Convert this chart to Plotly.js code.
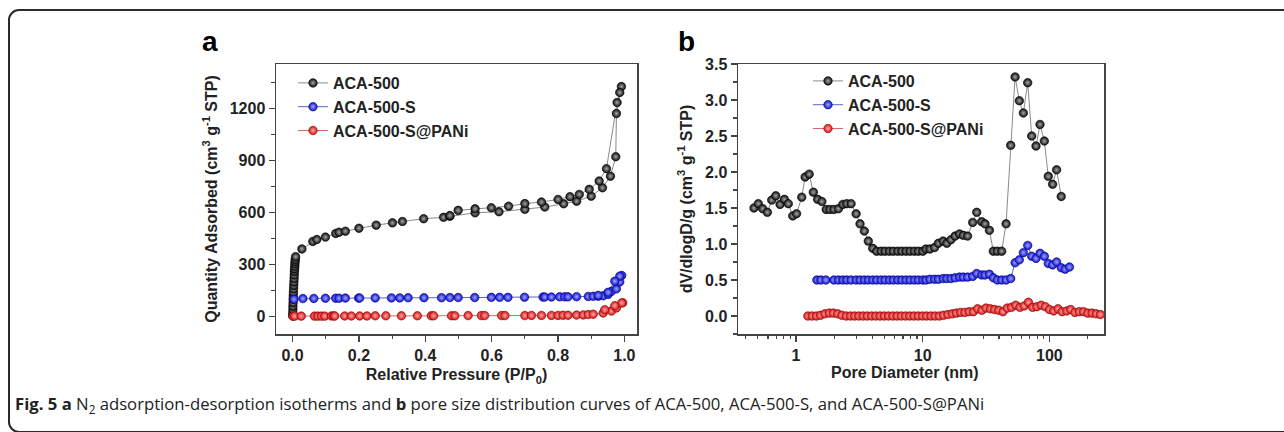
<!DOCTYPE html>
<html>
<head>
<meta charset="utf-8">
<script src="https://cdn.plot.ly/plotly-3.0.1.min.js"></script>
<style>
  html, body { margin: 0; padding: 0; background: #fff; }
  #wrap { position: relative; width: 1284px; height: 432px; overflow: hidden; }
  #frame { position: absolute; left: 8px; top: 9px; width: 1320px; height: 420px;
           border: 2px solid #2a2a2a; border-radius: 11px; pointer-events: none; }
  #chart { position: absolute; left: 0; top: 0; width: 1284px; height: 432px; }
</style>
</head>
<body>
<div id="wrap">
  <div id="chart"></div>
  <div id="frame"></div>
</div>
<script>
// ---------- Panel a: N2 adsorption-desorption isotherms ----------
const seriesNames = ['ACA-500', 'ACA-500-S', 'ACA-500-S@PANi'];

const isoX_ACA500 = [0.0003,0.0005,0.0008,0.001,0.0013,0.0016,0.002,0.0025,0.003,0.0035,0.004,0.0045,0.005,0.0055,0.006,0.0065,0.007,0.0075,0.008,0.009,
  0.028,0.061,0.073,0.099,0.130,0.140,0.159,0.200,0.252,0.301,0.331,0.395,0.455,0.474,0.550,0.622,0.700,0.760,0.817,0.856,0.900,0.934,0.958,0.974,0.976,0.991,
  0.986,0.978,0.946,0.924,0.894,0.864,0.836,0.800,0.750,0.700,0.651,0.599,0.550,0.499,0.474];
const isoY_ACA500 = [5,20,40,60,80,100,120,140,160,180,200,220,240,260,275,290,305,318,330,345,
  390,433,444,458,479,486,492,509,527,540,548,564,572,578,598,604,618,631,650,665,694,742,809,921,1170,1325,
  1291,1233,852,781,733,704,691,675,660,651,636,627,621,612,582];

const isoX_ACA500S = [0.004,0.031,0.064,0.099,0.130,0.140,0.159,0.199,0.202,0.249,0.298,0.323,0.348,0.396,0.449,0.474,0.499,0.549,0.599,0.624,0.649,0.699,0.755,0.760,0.780,0.805,0.820,0.830,0.856,0.891,0.906,0.921,0.936,0.951,0.961,0.976,0.986,0.992,0.986,0.971,0.951,0.921];
const isoY_ACA500S = [100,104,105,106,106,106,107,107,107,108,108,108,109,109,109,110,110,110,111,111,111,112,113,113,113,114,114,114,115,116,117,118,120,128,146,160,200,237,233,204,140,122];

const isoX_PANi = [0.001,0.006,0.026,0.066,0.076,0.087,0.097,0.117,0.124,0.127,0.157,0.177,0.202,0.224,0.249,0.281,0.328,0.376,0.418,0.425,0.479,0.489,0.529,0.569,0.579,0.630,0.640,0.700,0.720,0.750,0.780,0.800,0.815,0.830,0.856,0.876,0.891,0.906,0.936,0.961,0.976,0.995,0.992,0.971,0.941];
const isoY_PANi = [2,3,3,3,3,3,3,4,4,4,4,4,4,4,5,5,5,5,5,5,5,5,6,6,6,6,6,6,7,7,7,7,8,8,9,10,12,14,21,32,50,80,79,63,40];

// ---------- Panel b: pore size distribution ----------
const psdX_ACA500 = [0.466,0.504,0.546,0.594,0.643,0.692,0.748,0.809,0.869,0.942,1.01,1.11,1.18,1.27,1.37,1.48,1.60,1.73,1.85,1.99,2.16,2.34,2.51,2.72,2.98,3.20,3.46,3.72,4.03,4.33,4.69,5.04,5.45,5.86,6.35,6.83,7.38,7.94,8.59,9.23,10.0,10.6,11.4,12.4,13.3,14.5,15.5,16.7,18.0,19.5,20.9,22.6,24.8,26.7,29.2,31.0,33.6,36.1,38.8,42.0,45.5,49.5,53.6,57.9,62.3,67.4,72.5,78.4,84.3,91.2,98.0,106,114,124];
const psdY_ACA500 = [1.50,1.56,1.49,1.44,1.61,1.67,1.55,1.62,1.56,1.39,1.42,1.65,1.93,1.97,1.72,1.62,1.59,1.48,1.48,1.48,1.49,1.55,1.56,1.56,1.42,1.28,1.18,1.04,0.94,0.90,
  0.90,0.90,0.90,0.90,0.90,0.90,0.90,0.90,0.90,0.90,0.90,
  0.93,0.93,0.95,1.01,1.04,1.01,1.06,1.11,1.14,1.12,1.11,1.30,1.44,1.31,1.28,1.19,0.90,0.90,0.90,1.28,2.37,3.32,2.99,2.82,3.24,2.50,2.36,2.66,2.43,1.94,1.83,2.03,1.66];

const psdX_ACA500S = [1.46,1.57,1.72,1.99,2.16,2.34,2.51,2.72,2.98,3.20,3.46,3.72,4.03,4.33,4.69,5.04,5.45,5.86,6.35,6.83,7.38,7.94,8.59,9.23,10.0,10.6,11.4,12.4,13.3,14.5,15.5,16.7,18.0,19.5,20.9,22.6,24.8,26.7,29.2,31.0,33.6,36.1,38.8,42.0,45.5,49.5,53.6,57.9,62.3,67.4,72.5,78.4,84.3,91.2,98.0,106,114,124,133,144];
const psdY_ACA500S = [0.50,0.50,0.50,0.50,0.50,0.50,0.50,0.50,0.50,0.50,0.50,0.50,0.50,0.50,0.50,0.50,0.50,0.50,0.50,0.50,0.50,0.50,0.50,0.50,0.50,0.50,0.51,0.51,
  0.51,0.52,0.52,0.52,0.53,0.54,0.54,0.54,0.55,0.59,0.57,0.57,0.58,0.53,0.50,0.50,0.50,0.52,0.74,0.78,0.88,0.98,0.83,0.80,0.87,0.83,0.73,0.71,0.75,0.67,0.65,0.68];

const psdX_PANi = [1.24,1.34,1.45,1.56,1.69,1.83,1.97,2.13,2.30,2.49,2.69,2.90,3.13,3.38,3.65,3.95,4.26,4.60,4.97,5.37,5.80,6.27,6.77,7.31,7.89,8.53,9.21,9.95,10.7,11.6,12.5,13.5,14.6,15.8,17.1,18.4,19.9,21.5,23.2,25.1,27.1,29.3,31.6,34.2,36.9,39.8,43.0,46.5,50.2,54.2,58.5,63.2,68.3,73.7,79.6,86.0,92.9,100,108,117,126,137,147,159,172,186,201,217,234,253];
const psdY_PANi = [0.00,0.00,0.00,0.01,0.03,0.04,0.04,0.03,0.01,0.00,
  0.00,0.00,0.00,0.00,0.00,0.00,0.00,0.00,0.00,0.00,0.00,0.00,0.00,0.00,0.00,0.00,0.00,0.00,0.00,0.00,0.00,0.00,
  0.01,0.02,0.03,0.04,0.05,0.05,0.06,0.06,0.10,0.08,0.11,0.10,0.09,0.08,0.06,0.11,0.12,0.15,0.12,0.14,0.19,0.12,0.13,0.15,0.13,0.09,0.07,0.10,0.06,0.07,0.09,0.05,0.06,0.06,0.04,0.04,0.03,0.02];

// tick labels
const isoXTicks = [0.0, 0.2, 0.4, 0.6, 0.8, 1.0];
const isoYTicks = [0, 300, 600, 900, 1200];
const psdXTicks = [1, 10, 100];
const psdXTickText = ['1', '10', '100'];
const psdXMinor = [0.4,0.5,0.6,0.7,0.8,0.9,2,3,4,5,6,7,8,9,20,30,40,50,60,70,80,90,200];
const psdYTicks = [0.0, 0.5, 1.0, 1.5, 2.0, 2.5, 3.0, 3.5];

// ---------- styles ----------
const W = 1284, H = 432;
const FONT = 'Liberation Sans, Arial, sans-serif';
const styles = [
  { color: '#0c0c0c', grad: '#a8a8a8', edge: '#000000', line: '#8a8a8a' },
  { color: '#1010d8', grad: '#a0a8ff', edge: '#06066a', line: '#5a64c8' },
  { color: '#dc1414', grad: '#ffa8a8', edge: '#7a0808', line: '#d86a6a' }
];
function tr(x, y, i, xa, ya, leg) {
  const s = styles[i];
  return {
    x: x, y: y, name: seriesNames[i], type: 'scatter', mode: 'lines+markers',
    xaxis: xa, yaxis: ya, legend: leg, cliponaxis: true,
    line: { color: s.line, width: 1 },
    marker: { size: 8.5, color: s.color, line: { color: s.edge, width: 0.6 },
              gradient: { type: 'radial', color: s.grad } }
  };
}
const data = [
  tr(isoX_ACA500, isoY_ACA500, 0, 'x', 'y', 'legend'),
  tr(isoX_ACA500S, isoY_ACA500S, 1, 'x', 'y', 'legend'),
  tr(isoX_PANi, isoY_PANi, 2, 'x', 'y', 'legend'),
  tr(psdX_ACA500, psdY_ACA500, 0, 'x2', 'y2', 'legend2'),
  tr(psdX_ACA500S, psdY_ACA500S, 1, 'x2', 'y2', 'legend2'),
  tr(psdX_PANi, psdY_PANi, 2, 'x2', 'y2', 'legend2')
];

const tickFont = { family: FONT, size: 16, color: '#222', weight: 'bold' };
const titleFont = { family: FONT, size: 16, color: '#222', weight: 'bold' };
const axBase = {
  showline: true, mirror: true, linecolor: '#444', linewidth: 1.5,
  ticks: 'outside', ticklen: 6, tickwidth: 1.3, tickcolor: '#444',
  showgrid: false, zeroline: false, tickfont: tickFont, automargin: false
};
const px = v => v / W, py = v => 1 - v / H;

const layout = {
  width: W, height: H,
  margin: { l: 0, r: 0, t: 0, b: 0 },
  paper_bgcolor: 'rgba(0,0,0,0)', plot_bgcolor: 'rgba(0,0,0,0)',
  showlegend: true,
  xaxis: Object.assign({}, axBase, {
    domain: [px(276), px(637)], range: [-0.05, 1.038],
    tickmode: 'array', tickvals: isoXTicks, tickformat: '.1f',
    minor: { ticks: 'outside', ticklen: 3.5, tickwidth: 1.2, tickcolor: '#444', dtick: 0.1, tick0: 0 },
    title: { text: 'Relative Pressure (P/P<sub>0</sub>)', font: titleFont, standoff: 6 },
    anchor: 'y'
  }),
  yaxis: Object.assign({}, axBase, {
    domain: [py(334), py(64)], range: [-100, 1455],
    tickmode: 'array', tickvals: isoYTicks,
    minor: { ticks: 'outside', ticklen: 3.5, tickwidth: 1.2, tickcolor: '#444', dtick: 150, tick0: 0 },
    title: { text: 'Quantity Adsorbed (cm<sup>3</sup> g<sup>-1</sup> STP)', font: titleFont, standoff: 8 },
    anchor: 'x'
  }),
  xaxis2: Object.assign({}, axBase, {
    domain: [px(738), px(1104)], type: 'log', range: [-0.458, 2.431],
    tickmode: 'array', tickvals: psdXTicks, ticktext: psdXTickText,
    minor: { ticks: 'outside', ticklen: 3.5, tickwidth: 1.2, tickcolor: '#444', tickmode: 'array', tickvals: psdXMinor },
    anchor: 'y2'
  }),
  yaxis2: Object.assign({}, axBase, {
    domain: [py(334), py(64)], range: [-0.25, 3.5],
    tickmode: 'array', tickvals: psdYTicks, tickformat: '.1f',
    minor: { ticks: 'outside', ticklen: 3.5, tickwidth: 1.2, tickcolor: '#444', dtick: 0.25, tick0: 0 },
    title: { text: 'dV/dlogD/g (cm<sup>3</sup> g<sup>-1</sup> STP)', font: titleFont, standoff: 8 },
    anchor: 'x2'
  }),
  legend: {
    x: px(293), y: py(66), xanchor: 'left', yanchor: 'top',
    bgcolor: 'rgba(0,0,0,0)', borderwidth: 0,
    font: { family: FONT, size: 16, color: '#222', weight: 'bold' }
  },
  legend2: {
    x: px(808), y: py(64), xanchor: 'left', yanchor: 'top',
    bgcolor: 'rgba(0,0,0,0)', borderwidth: 0,
    font: { family: FONT, size: 16, color: '#222', weight: 'bold' }
  },
  annotations: [
    { text: 'a', xref: 'paper', yref: 'paper', x: px(200), y: py(41), xanchor: 'left', yanchor: 'middle',
      showarrow: false, font: { family: FONT, size: 28, color: '#000', weight: 'bold' } },
    { text: 'b', xref: 'paper', yref: 'paper', x: px(676), y: py(41), xanchor: 'left', yanchor: 'middle',
      showarrow: false, font: { family: FONT, size: 28, color: '#000', weight: 'bold' } },
    { text: 'Pore Diameter (nm)', xref: 'paper', yref: 'paper', x: px(905), y: py(372), xanchor: 'center', yanchor: 'middle',
      showarrow: false, font: titleFont },
    { text: '<b>Fig. 5 a</b> N<sub>2</sub> adsorption-desorption isotherms and <b>b</b> pore size distribution curves of ACA-500, ACA-500-S, and ACA-500-S@PANi',
      xref: 'paper', yref: 'paper', x: px(13), y: py(404), xanchor: 'left', yanchor: 'middle',
      showarrow: false, font: { family: 'Open Sans, Noto Sans, sans-serif', size: 16.7, color: '#222' } }
  ]
};

Plotly.newPlot('chart', data, layout, { staticPlot: true, displayModeBar: false });
</script>
</body>
</html>
